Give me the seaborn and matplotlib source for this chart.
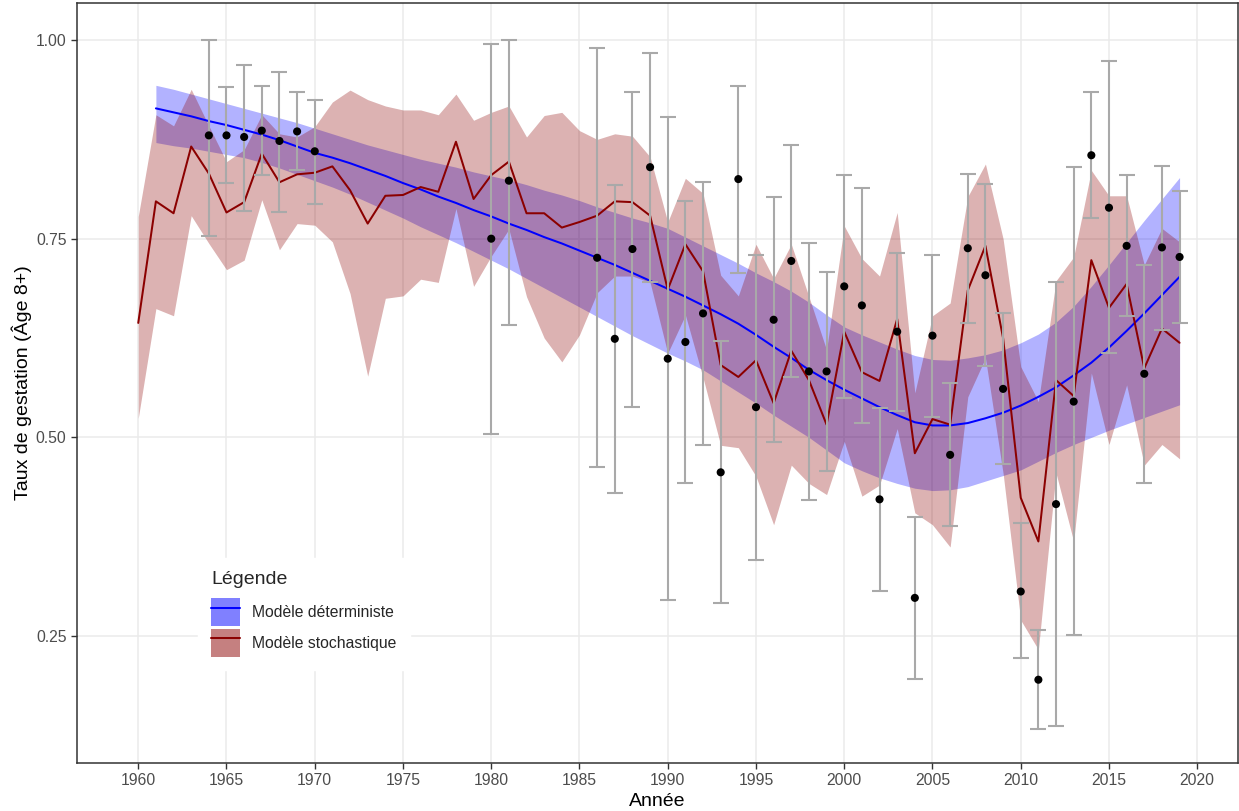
import numpy as np
import pandas as pd
import matplotlib
matplotlib.use("Agg")
import matplotlib.pyplot as plt
from matplotlib.patches import Patch
from matplotlib.lines import Line2D
import seaborn as sns

# ---- deterministic model (1961-2019) ----
det_years = list(range(1961, 2020))
det_mean = [0.914, 0.909, 0.904, 0.898, 0.893, 0.887, 0.881, 0.874, 0.866, 0.858,
            0.852, 0.845, 0.837, 0.829, 0.820, 0.812, 0.803, 0.795, 0.786, 0.778,
            0.769, 0.761, 0.752, 0.744, 0.735, 0.726, 0.717, 0.707, 0.697, 0.687,
            0.677, 0.666, 0.655, 0.643, 0.629, 0.614, 0.600, 0.585, 0.572, 0.560,
            0.549, 0.538, 0.528, 0.519, 0.515, 0.515, 0.518, 0.524, 0.531, 0.540,
            0.551, 0.563, 0.578, 0.594, 0.613, 0.634, 0.656, 0.679, 0.702]
det_lo = [0.871, 0.867, 0.864, 0.860, 0.856, 0.852, 0.846, 0.839, 0.831, 0.823,
          0.815, 0.806, 0.796, 0.786, 0.776, 0.765, 0.755, 0.745, 0.734, 0.723,
          0.712, 0.700, 0.688, 0.676, 0.664, 0.652, 0.640, 0.628, 0.617, 0.606,
          0.596, 0.585, 0.571, 0.557, 0.543, 0.528, 0.514, 0.500, 0.484, 0.468,
          0.458, 0.449, 0.442, 0.436, 0.433, 0.434, 0.438, 0.445, 0.452, 0.459,
          0.470, 0.481, 0.491, 0.500, 0.509, 0.517, 0.525, 0.533, 0.541]
det_hi = [0.943, 0.938, 0.932, 0.926, 0.920, 0.914, 0.908, 0.902, 0.896, 0.889,
          0.882, 0.875, 0.868, 0.862, 0.856, 0.850, 0.845, 0.840, 0.834, 0.829,
          0.824, 0.818, 0.811, 0.805, 0.798, 0.790, 0.783, 0.776, 0.770, 0.763,
          0.752, 0.741, 0.730, 0.719, 0.707, 0.696, 0.684, 0.670, 0.654, 0.639,
          0.629, 0.620, 0.611, 0.603, 0.598, 0.597, 0.600, 0.604, 0.610, 0.619,
          0.630, 0.645, 0.665, 0.690, 0.717, 0.745, 0.773, 0.800, 0.827]

# ---- stochastic model (1960-2019) ----
sto_years = list(range(1960, 2020))
sto_mean = [0.644, 0.797, 0.782, 0.866, 0.832, 0.783, 0.796, 0.857, 0.821, 0.831,
            0.833, 0.841, 0.811, 0.769, 0.804, 0.805, 0.815, 0.809, 0.872, 0.800,
            0.830, 0.847, 0.782, 0.782, 0.764, 0.771, 0.779, 0.797, 0.796, 0.779,
            0.686, 0.743, 0.709, 0.591, 0.576, 0.597, 0.543, 0.609, 0.572, 0.516,
            0.633, 0.582, 0.571, 0.649, 0.480, 0.523, 0.516, 0.685, 0.741, 0.625,
            0.424, 0.369, 0.572, 0.552, 0.723, 0.663, 0.693, 0.587, 0.637, 0.619]
sto_lo = [0.524, 0.662, 0.653, 0.779, 0.744, 0.711, 0.723, 0.799, 0.736, 0.769,
          0.767, 0.746, 0.681, 0.577, 0.675, 0.678, 0.699, 0.695, 0.788, 0.690,
          0.728, 0.762, 0.677, 0.625, 0.595, 0.629, 0.682, 0.703, 0.703, 0.695,
          0.606, 0.654, 0.575, 0.490, 0.487, 0.451, 0.390, 0.465, 0.442, 0.428,
          0.495, 0.426, 0.440, 0.511, 0.405, 0.390, 0.362, 0.551, 0.600, 0.455,
          0.270, 0.233, 0.455, 0.369, 0.581, 0.491, 0.566, 0.465, 0.491, 0.473]
sto_hi = [0.778, 0.906, 0.892, 0.938, 0.892, 0.847, 0.862, 0.906, 0.882, 0.878,
          0.891, 0.922, 0.937, 0.925, 0.917, 0.912, 0.912, 0.906, 0.932, 0.899,
          0.909, 0.917, 0.878, 0.905, 0.909, 0.886, 0.875, 0.882, 0.879, 0.853,
          0.771, 0.826, 0.807, 0.704, 0.678, 0.743, 0.700, 0.743, 0.677, 0.610,
          0.766, 0.725, 0.703, 0.783, 0.556, 0.653, 0.669, 0.803, 0.844, 0.750,
          0.589, 0.545, 0.697, 0.727, 0.836, 0.804, 0.804, 0.717, 0.763, 0.746]

# ---- observed pregnancy rates with confidence limits ----
obs_years = [1964, 1965, 1966, 1967, 1968, 1969, 1970, 1980, 1981,
             1986, 1987, 1988, 1989, 1990, 1991, 1992, 1993, 1994, 1995,
             1996, 1997, 1998, 1999, 2000, 2001, 2002, 2003, 2004, 2005,
             2006, 2007, 2008, 2009, 2010, 2011, 2012, 2013, 2014, 2015,
             2016, 2017, 2018, 2019]
obs_rate = [0.880, 0.880, 0.878, 0.886, 0.873, 0.885, 0.860, 0.750, 0.823,
            0.726, 0.624, 0.737, 0.840, 0.599, 0.620, 0.656, 0.456, 0.825, 0.538,
            0.648, 0.722, 0.583, 0.583, 0.690, 0.666, 0.422, 0.633, 0.298, 0.628,
            0.478, 0.738, 0.704, 0.561, 0.306, 0.195, 0.416, 0.545, 0.855, 0.789,
            0.741, 0.580, 0.739, 0.727]
obs_lo = [0.753, 0.820, 0.785, 0.830, 0.784, 0.836, 0.794, 0.504, 0.642,
          0.463, 0.430, 0.538, 0.696, 0.295, 0.443, 0.490, 0.291, 0.707, 0.346,
          0.494, 0.576, 0.421, 0.458, 0.549, 0.518, 0.307, 0.533, 0.196, 0.525,
          0.388, 0.644, 0.590, 0.467, 0.222, 0.133, 0.137, 0.251, 0.776, 0.606,
          0.653, 0.443, 0.635, 0.644]
obs_hi = [1.000, 0.941, 0.969, 0.942, 0.960, 0.934, 0.925, 0.995, 1.000,
          0.990, 0.818, 0.934, 0.984, 0.903, 0.797, 0.821, 0.621, 0.942, 0.730,
          0.802, 0.868, 0.744, 0.708, 0.830, 0.814, 0.537, 0.732, 0.400, 0.730,
          0.568, 0.831, 0.819, 0.657, 0.392, 0.258, 0.695, 0.840, 0.934, 0.973,
          0.830, 0.717, 0.842, 0.810]

x_ticks = [1960, 1965, 1970, 1975, 1980, 1985, 1990, 1995, 2000, 2005, 2010, 2015, 2020]
y_ticks = [0.25, 0.50, 0.75, 1.00]
y_tick_labels = ["0.25", "0.50", "0.75", "1.00"]
legend_labels = ["Modèle déterministe", "Modèle stochastique"]

det = pd.DataFrame({"annee": det_years, "taux": det_mean, "bas": det_lo, "haut": det_hi})
sto = pd.DataFrame({"annee": sto_years, "taux": sto_mean, "bas": sto_lo, "haut": sto_hi})
obs = pd.DataFrame({"annee": obs_years, "taux": obs_rate, "bas": obs_lo, "haut": obs_hi})

sns.set_theme(style="white")
plt.rcParams["font.family"] = ["Liberation Sans", "DejaVu Sans"]

fig = plt.figure(figsize=(12.39, 8.11), dpi=100)
ax = fig.add_axes([77 / 1239, 1 - 763 / 811, (1238 - 77) / 1239, (763 - 3) / 811])

BLUE = "#0000FF"
DARKRED = "#8B0000"

# confidence ribbons
ax.fill_between(det["annee"], det["bas"], det["haut"], color=BLUE, alpha=0.3,
                linewidth=0, zorder=2)
ax.fill_between(sto["annee"], sto["bas"], sto["haut"], color=DARKRED, alpha=0.3,
                linewidth=0, zorder=3)

# model trajectories
sns.lineplot(data=det, x="annee", y="taux", color=BLUE, linewidth=1.45, ax=ax,
             zorder=4, legend=False)
sns.lineplot(data=sto, x="annee", y="taux", color=DARKRED, linewidth=1.45, ax=ax,
             zorder=4, legend=False)

# observed rates with their intervals
ax.errorbar(obs["annee"], obs["taux"],
            yerr=[obs["taux"] - obs["bas"], obs["haut"] - obs["taux"]],
            fmt="none", ecolor="#A9A9A9", elinewidth=1.5, capsize=5.6,
            capthick=1.5, zorder=5)
sns.scatterplot(data=obs, x="annee", y="taux", color="black", s=34,
                edgecolor="none", ax=ax, zorder=6, legend=False)

# axes, grid and frame
ax.set_xlim(1956.53, 2022.31)
ax.set_ylim(0.0902, 1.0466)
ax.set_xticks(x_ticks)
ax.set_yticks(y_ticks)
ax.set_yticklabels(y_tick_labels)
ax.grid(True, color="#EBEBEB", linewidth=1.1, zorder=0)
ax.set_axisbelow(True)
for side in ["left", "right", "top", "bottom"]:
    ax.spines[side].set_visible(True)
    ax.spines[side].set_color("#333333")
    ax.spines[side].set_linewidth(1.1)
ax.tick_params(axis="both", which="major", direction="out", length=4,
               width=1.0, color="#333333", labelcolor="#4D4D4D",
               labelsize=11.3, pad=3.5, bottom=True, left=True)
ax.set_xlabel("Année", fontsize=14, color="black", labelpad=3)
ax.set_ylabel("Taux de gestation (Âge 8+)", fontsize=14, color="black", labelpad=3)

# legend: filled key with the trajectory line drawn over it
handles = [
    (Patch(facecolor="#8080FF", edgecolor="none"), Line2D([], [], color=BLUE, linewidth=1.45)),
    (Patch(facecolor="#C58080", edgecolor="none"), Line2D([], [], color=DARKRED, linewidth=1.45)),
]
leg = ax.legend(handles, legend_labels, title="Légende", loc="upper left",
                bbox_to_anchor=((198 - 77) / 1161, (763 - 558) / 760),
                frameon=True, fancybox=False, facecolor="white", edgecolor="white",
                framealpha=1.0, fontsize=11.3, title_fontsize=14,
                handlelength=1.85, handleheight=2.4, labelspacing=0.15,
                handletextpad=0.75, borderpad=0.85, borderaxespad=0.0,
                alignment="left")
leg._legend_box.sep = 7
leg.set_zorder(10)

fig.savefig("out.png", dpi=100)
